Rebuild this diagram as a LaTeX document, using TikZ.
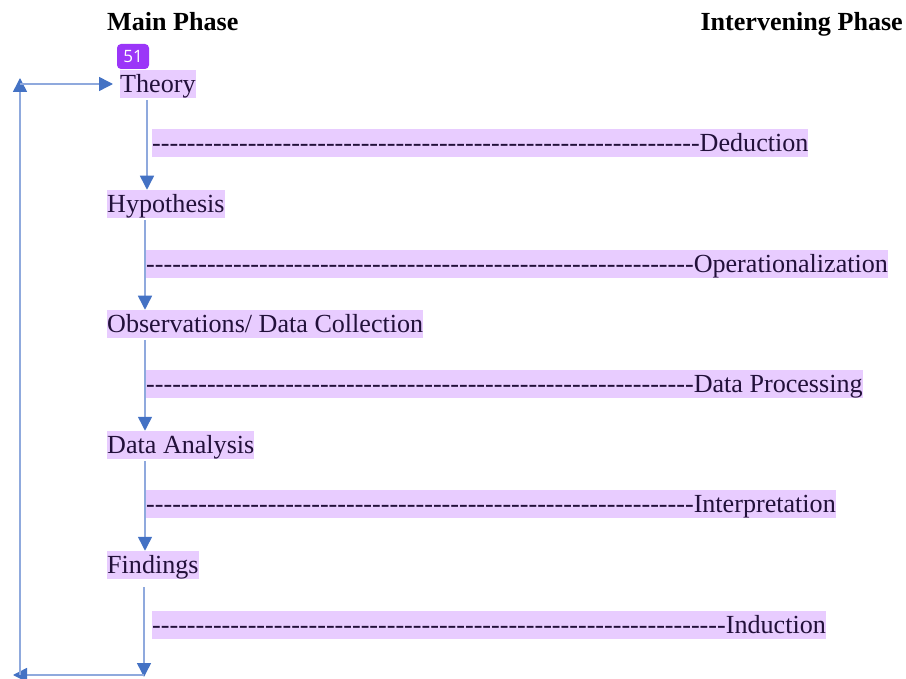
\documentclass[tikz,border=0pt]{standalone}
\usepackage{fontspec}
\setmainfont{Liberation Serif}
\newfontfamily\badgefont{Open Sans}
\usetikzlibrary{arrows.meta,calc}
\definecolor{hl}{HTML}{E8CCFF}
\definecolor{ink}{HTML}{22103A}
\definecolor{linkline}{HTML}{8FA9DD}
\definecolor{linktip}{HTML}{4472C4}
\definecolor{badgefill}{HTML}{9B36F8}
% a run of separate hyphens (kerns keep them from joining into dashes)
\newcommand\hyphenrun[1]{\foreach\k in {1,...,#1}{-\kern0pt}}

\begin{document}
\begin{tikzpicture}[x=1pt,y=-1pt,
  every node/.style={font=\fontsize{26.1}{30}\selectfont},
  phase/.style={anchor=west, fill=hl, text=ink, inner sep=0pt,
    text height=23pt, text depth=5.1pt},
  header/.style={font=\fontsize{26.1}{30}\selectfont\bfseries, inner sep=0pt,
    text height=22.4pt, text depth=5.7pt},
  tagbox/.style={fill=badgefill, text=white, rounded corners=4pt, inner sep=0pt,
    minimum width=32pt, minimum height=25pt, font=\badgefont\fontsize{17}{20}\selectfont},
  flow/.style={draw=linkline, line width=1.5pt,
    -{Triangle[length=14pt,width=14pt,color=linktip]}},
]
\useasboundingbox (0,0) rectangle (906,679);

% column headers
\node[header,anchor=west] (mainhead) at (107,22) {Main Phase};
\node[header,anchor=east] (inthead) at (903,22) {Intervening Phase};

% main phases and intervening phases
\node[phase] (theory)    at (120,84)  {Theory};
\node[phase] (deduction) at (152,143) {\hyphenrun{63}Deduction};
\node[phase] (hyp)       at (107,204) {Hypothesis};
\node[phase] (oper)      at (146,264) {\hyphenrun{63}Operationalization};
\node[phase] (obs)       at (107,324) {Observations/ Data Collection};
\node[phase] (proc)      at (146,384) {\hyphenrun{63}Data Processing};
\node[phase] (analysis)  at (107,445) {Data Analysis};
\node[phase] (interp)    at (146,504) {\hyphenrun{63}Interpretation};
\node[phase] (findings)  at (107,565) {Findings};
\node[phase] (induction) at (152,625) {\hyphenrun{66}Induction};

\node[tagbox] (tag) at (133,56.5) {51};

% downward flow between main phases
\draw[flow] ($(theory.south west)+(27,2)$) -- ($(hyp.north west)+(40,0)$);
\draw[flow] ($(hyp.south west)+(38,2)$) -- ($(obs.north west)+(38,0)$);
\draw[flow] ($(obs.south west)+(38,2)$) -- ($(analysis.north west)+(38,0)$);
\draw[flow] ($(analysis.south west)+(38,2)$) -- ($(findings.north west)+(38,0)$);

% loop back from findings to theory
\coordinate (br) at (144,677);
\coordinate (bl) at (20,675);
\coordinate (tl) at (20,84);
\draw[flow] ($(findings.south west)+(37,8)$) -- (br);
\draw[flow] ($(br)+(0,-2)$) -- ($(bl)+(-7,0)$);
\draw[flow] (bl) -- ($(tl)+(0,-6)$);
\draw[flow] (tl) -- ($(theory.west)+(-7,0)$);
\end{tikzpicture}
\end{document}
